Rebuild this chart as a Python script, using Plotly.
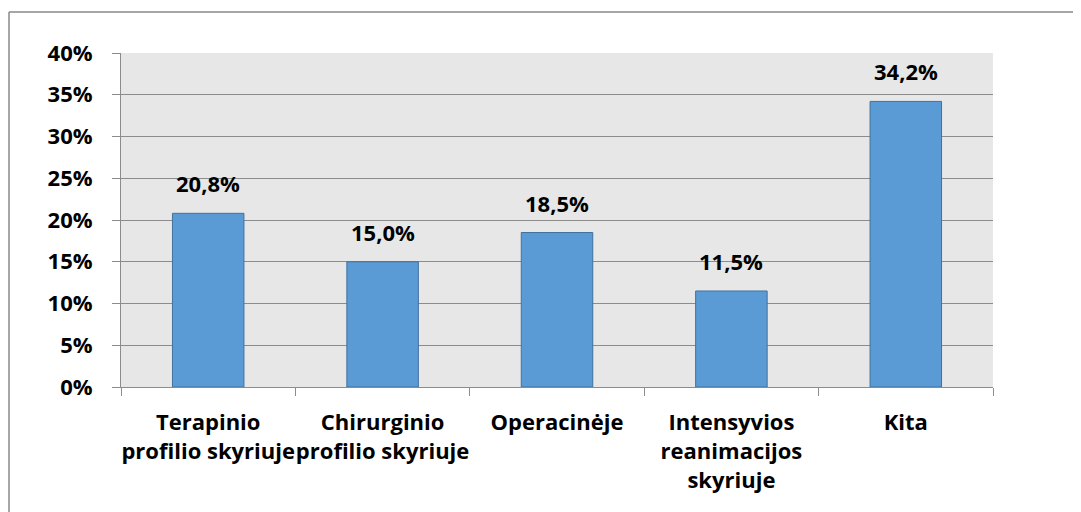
import plotly.graph_objects as go

categories = ["Terapinio<br>profilio skyriuje", "Chirurginio<br>profilio skyriuje", "Operacinėje",
              "Intensyvios<br>reanimacijos<br>skyriuje", "Kita"]
values = [20.8, 15.0, 18.5, 11.5, 34.2]
labels = ["20,8%", "15,0%", "18,5%", "11,5%", "34,2%"]
ytick_vals = [0, 5, 10, 15, 20, 25, 30, 35, 40]
ytick_text = ["0%", "5%", "10%", "15%", "20%", "25%", "30%", "35%", "40%"]

W, H = 1081, 512
OFF = 8  # page body margin
L, T = 121 - OFF, 53 - OFF
R = W - (993 - OFF)
B = H - (387 - OFF)
pw, ph = W - L - R, H - T - B

font = "Open Sans"

fig = go.Figure(go.Bar(
    x=categories, y=values,
    marker=dict(color="#5B9BD5", line=dict(color="#41719C", width=1)),
    width=0.41,
))

for c, v, t in zip(categories, values, labels):
    fig.add_annotation(x=c, y=v, text=t, showarrow=False, yanchor="bottom", yshift=13,
                       font=dict(family=font, size=22, color="#000000", weight="bold"))

fig.update_layout(
    width=W, height=H,
    margin=dict(l=L, r=R, t=T, b=B, autoexpand=False),
    paper_bgcolor="white", plot_bgcolor="#E7E7E7",
    showlegend=False,
    font=dict(family=font, size=22, color="#000000", weight="bold"),
)
fig.update_yaxes(
    range=[0, 40], tickvals=ytick_vals, ticktext=ytick_text,
    showgrid=True, gridcolor="#8C8C8C", gridwidth=1,
    showline=True, linecolor="#8C8C8C", linewidth=1,
    ticks="outside", ticklen=8, tickcolor="#8C8C8C",
    tickfont=dict(family=font, size=22, weight="bold"),
    zeroline=False, ticklabelstandoff=15, automargin=False,
)
fig.update_xaxes(
    showgrid=False, showline=True, linecolor="#8C8C8C", linewidth=1,
    ticks="outside", ticklen=8, tickcolor="#8C8C8C", tickson="boundaries",
    tickfont=dict(family=font, size=22, weight="bold"),
    ticklabelstandoff=16, tickangle=0, automargin=False,
)

# outer chart border (left and top edges visible)
x0 = (9 - OFF - L) / pw
y0 = 1 + (T - (12 - OFF)) / ph
fig.add_shape(type="line", xref="paper", yref="paper", x0=x0, x1=(W + 5 - L) / pw, y0=y0, y1=y0,
              line=dict(color="#888888", width=1.5))
fig.add_shape(type="line", xref="paper", yref="paper", x0=x0, x1=x0, y0=y0, y1=-(B + 20) / ph,
              line=dict(color="#888888", width=1.5))

fig.write_html("out.html")
